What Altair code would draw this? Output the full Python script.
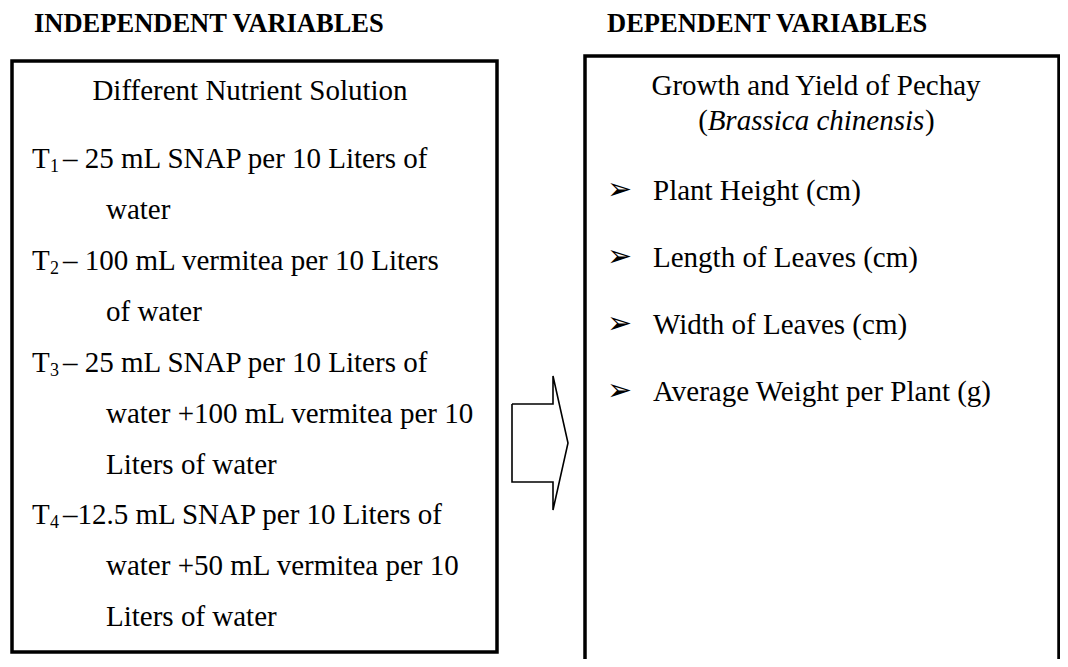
import altair as alt
import pandas as pd

SERIF = "Liberation Serif"

# ---- text content ----
title_text = ["INDEPENDENT VARIABLES", "DEPENDENT VARIABLES"]
title_x = [34, 607]
title_y = [32, 32]

center_text = ["Different Nutrient Solution", "Growth and Yield of Pechay"]
center_x = [250, 816]
center_y = [100, 95]

treat_letter = ["T", "T", "T", "T"]
treat_sub = ["1", "2", "3", "4"]
treat_rest = ["– 25 mL SNAP per 10 Liters of",
              "– 100 mL vermitea per 10 Liters",
              "– 25 mL SNAP per 10 Liters of",
              "–12.5 mL SNAP per 10 Liters of"]
treat_y = [168, 270, 372, 524]

cont_text = ["water", "of water", "water +100 mL vermitea per 10",
             "Liters of water", "water +50 mL vermitea per 10", "Liters of water"]
cont_y = [219, 321, 423, 474, 575, 626]

species_text = ["Brassica chinensis"]
species_y = [130]

dep_items = ["Plant Height (cm)", "Length of Leaves (cm)",
             "Width of Leaves (cm)", "Average Weight per Plant (g)"]
dep_y = [200, 267, 334, 401]

# ---- shapes (page pixel coordinates) ----
box_x = [12, 585]
box_x2 = [497, 1059]
box_y = [61, 56]
box_y2 = [652, 720]

arrow_x = [512, 553, 553, 568, 553, 553, 512, 512]
arrow_y = [404, 404, 376, 443, 510, 482, 482, 404]

xsc = alt.Scale(domain=[8, 1060], zero=False, nice=False)
ysc = alt.Scale(domain=[659, 8], zero=False, nice=False)
X = alt.X("x:Q", scale=xsc, axis=None)
Y = alt.Y("y:Q", scale=ysc, axis=None)

boxes = alt.Chart(pd.DataFrame({"x": box_x, "x2": box_x2, "y": box_y, "y2": box_y2})).mark_rect(
    fill=None, stroke="black", strokeWidth=3.5, clip=False
).encode(x=X, x2="x2:Q", y=Y, y2="y2:Q")

arrow = alt.Chart(pd.DataFrame({"x": arrow_x, "y": arrow_y, "i": list(range(len(arrow_x)))})).mark_line(
    color="black", strokeWidth=1.6, strokeJoin="miter"
).encode(x=X, y=Y, order="i:Q")

titles = alt.Chart(pd.DataFrame({"x": title_x, "y": title_y, "t": title_text})).mark_text(
    font=SERIF, fontSize=26.5, fontWeight="bold", align="left", baseline="alphabetic", color="black"
).encode(x=X, y=Y, text="t:N")

centers = alt.Chart(pd.DataFrame({"x": center_x, "y": center_y, "t": center_text})).mark_text(
    font=SERIF, fontSize=29, align="center", baseline="alphabetic", color="black"
).encode(x=X, y=Y, text="t:N")

tl = alt.Chart(pd.DataFrame({"x": [32] * 4, "y": treat_y, "t": treat_letter})).mark_text(
    font=SERIF, fontSize=29, align="left", baseline="alphabetic", color="black"
).encode(x=X, y=Y, text="t:N")

ts = alt.Chart(pd.DataFrame({"x": [50] * 4, "y": treat_y, "t": treat_sub})).mark_text(
    font=SERIF, fontSize=18, align="left", baseline="alphabetic", dy=4, color="black"
).encode(x=X, y=Y, text="t:N")

tr = alt.Chart(pd.DataFrame({"x": [63] * 4, "y": treat_y, "t": treat_rest})).mark_text(
    font=SERIF, fontSize=29, align="left", baseline="alphabetic", color="black"
).encode(x=X, y=Y, text="t:N")

cont = alt.Chart(pd.DataFrame({"x": [106] * len(cont_y), "y": cont_y, "t": cont_text})).mark_text(
    font=SERIF, fontSize=29, align="left", baseline="alphabetic", color="black"
).encode(x=X, y=Y, text="t:N")

species = alt.Chart(pd.DataFrame({"x": [816], "y": species_y, "t": species_text})).mark_text(
    font=SERIF, fontSize=29, fontStyle="italic", align="center", baseline="alphabetic", color="black"
).encode(x=X, y=Y, text="t:N")

paren_l = alt.Chart(pd.DataFrame({"x": [708], "y": species_y, "t": ["("]})).mark_text(
    font=SERIF, fontSize=29, align="right", baseline="alphabetic", color="black"
).encode(x=X, y=Y, text="t:N")

paren_r = alt.Chart(pd.DataFrame({"x": [925], "y": species_y, "t": [")"]})).mark_text(
    font=SERIF, fontSize=29, align="left", baseline="alphabetic", color="black"
).encode(x=X, y=Y, text="t:N")

bullets = alt.Chart(pd.DataFrame({"x": [607] * 4, "y": dep_y, "t": ["➢"] * 4})).mark_text(
    font="DejaVu Sans", fontSize=30, align="left", baseline="alphabetic", dy=-1, color="black"
).encode(x=X, y=Y, text="t:N")

items = alt.Chart(pd.DataFrame({"x": [653] * 4, "y": dep_y, "t": dep_items})).mark_text(
    font=SERIF, fontSize=29, align="left", baseline="alphabetic", color="black"
).encode(x=X, y=Y, text="t:N")

chart = alt.layer(
    boxes, arrow, titles, centers, tl, ts, tr, cont, species, paren_l, paren_r, bullets, items
).properties(
    width=1052, height=651, padding=0,
    autosize=alt.AutoSizeParams(type="none"),
    background="white",
).configure_view(stroke=None)

chart.save("out.html", embed_options={"renderer": "svg", "actions": False})
